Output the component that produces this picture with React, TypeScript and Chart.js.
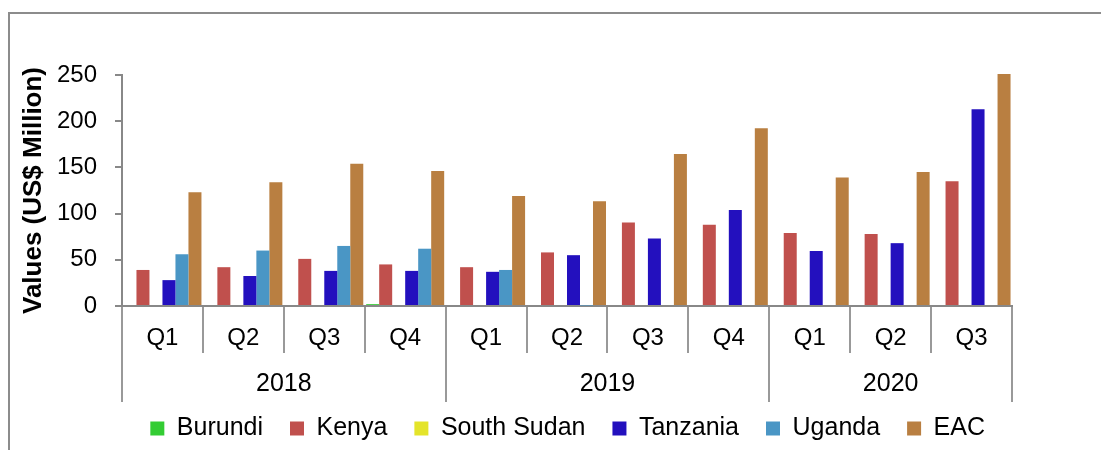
import React, { useEffect, useRef } from "react";
import { Chart, registerables } from "chart.js";

Chart.register(...registerables);

// ---- data ----
const quarters = ["Q1", "Q2", "Q3", "Q4", "Q1", "Q2", "Q3", "Q4", "Q1", "Q2", "Q3"];
const years = ["2018", "2019", "2020"];
const yearStart = [0, 4, 8];
const yearEnd = [4, 8, 11];

const burundi = [0, 0, 0, 2, 0, 0, 0, 0, 0, 0, 0];
const kenya = [39, 42, 51, 45, 42, 58, 90.5, 88, 79, 78, 135];
const southSudan = [0, 0, 0, 0, 0, 0, 0, 0, 0, 0, 0];
const tanzania = [28, 32.5, 38, 38, 37, 55, 73, 104, 59.5, 68, 213];
const uganda = [56, 60, 65, 62, 39, 0.5, 0, 0, 0, 0, 0];
const eac = [123, 134, 154, 146, 119, 113.5, 164.5, 192.5, 139, 145, 251];

const yTicks = [0, 50, 100, 150, 200, 250];

const FONT = "'Liberation Sans', Arial, sans-serif";
const AXIS_GRAY = "#888888";
const LINE_GRAY = "#999999";

export default function App() {
  const canvasRef = useRef<HTMLCanvasElement | null>(null);

  useEffect(() => {
    if (!canvasRef.current) return;
    const yearCenters = yearStart.map((s, i) => (s + yearEnd[i]) / 2);
    const boundaries = Array.from(new Set([...yearStart, ...yearEnd]));
    const x2Ticks = [...boundaries, ...yearCenters].sort((a, b) => a - b);

    const chart = new Chart(canvasRef.current, {
      type: "bar",
      data: {
        labels: quarters,
        datasets: [
          { label: "Burundi", data: burundi, backgroundColor: "#33CC33" },
          { label: "Kenya", data: kenya, backgroundColor: "#C0504D" },
          { label: "South Sudan", data: southSudan, backgroundColor: "#E4E42A" },
          { label: "Tanzania", data: tanzania, backgroundColor: "#2310BE" },
          { label: "Uganda", data: uganda, backgroundColor: "#4A96C5" },
          { label: "EAC", data: eac, backgroundColor: "#B97F41", clip: false as any },
        ],
      },
      options: {
        animation: false,
        responsive: true,
        maintainAspectRatio: false,
        datasets: { bar: { categoryPercentage: 0.964, barPercentage: 1 } },
        layout: { padding: { top: 61, left: 4, right: 89, bottom: -1 } },
        font: { family: FONT },
        scales: {
          x: {
            type: "category",
            position: "bottom",
            weight: 0,
            offset: true,
            grid: {
              offset: true,
              drawOnChartArea: false,
              tickLength: 47,
              color: LINE_GRAY,
              lineWidth: 2,
            },
            border: { display: true, color: AXIS_GRAY, width: 2 },
            ticks: {
              font: { family: FONT, size: 24 },
              color: "#000",
              padding: -29,
              autoSkip: false,
              maxRotation: 0,
            },
            afterFit: (scale: any) => {
              scale.height = 47;
            },
          },
          x2: {
            type: "linear",
            position: "bottom",
            weight: 1,
            min: 0,
            max: quarters.length,
            bounds: "data",
            offset: false,
            grid: {
              offset: false,
              drawOnChartArea: false,
              tickLength: 49,
              lineWidth: 2,
              color: (ctx: any) =>
                ctx.tick && boundaries.includes(ctx.tick.value) ? LINE_GRAY : "rgba(0,0,0,0)",
            },
            border: { display: false },
            afterBuildTicks: (scale: any) => {
              scale.ticks = x2Ticks.map((v) => ({ value: v }));
            },
            ticks: {
              font: { family: FONT, size: 25 },
              color: "#000",
              mirror: true,
              padding: -46.5,
              autoSkip: false,
              maxRotation: 0,
              callback: (value: any) => {
                const i = yearCenters.indexOf(Number(value));
                return i >= 0 ? years[i] : "";
              },
            },
            afterFit: (scale: any) => {
              scale.height = 36;
            },
          },
          y: {
            type: "linear",
            position: "left",
            min: yTicks[0],
            max: yTicks[yTicks.length - 1],
            afterBuildTicks: (scale: any) => {
              scale.ticks = yTicks.map((v) => ({ value: v }));
            },
            grid: {
              drawOnChartArea: false,
              tickLength: 7,
              color: AXIS_GRAY,
              lineWidth: 2,
            },
            border: { display: true, color: AXIS_GRAY, width: 2 },
            ticks: {
              font: { family: FONT, size: 24 },
              color: "#000",
              padding: 18,
            },
            title: {
              display: true,
              text: "Values (US$ Million)",
              font: { family: FONT, size: 26, weight: "bold" },
              color: "#000",
              padding: { top: 4, bottom: 0 },
            },
            afterFit: (scale: any) => {
              scale.width = 108;
            },
          },
        },
        plugins: {
          legend: {
            display: true,
            position: "bottom",
            align: "end",
            fullSize: true,
            labels: {
              font: { family: FONT, size: 25 },
              color: "#000",
              boxWidth: 14,
              boxHeight: 14,
              padding: 27,
            },
          },
          tooltip: { enabled: false },
        },
      } as any,
    });
    return () => chart.destroy();
  }, []);

  return (
    <div
      style={{
        position: "absolute",
        left: 8,
        top: 12,
        width: 1093,
        height: 438,
        borderTop: "2px solid #8c8c8c",
        borderLeft: "2px solid #8c8c8c",
        boxSizing: "border-box",
        background: "#fff",
      }}
    >
      <div style={{ position: "relative", width: "100%", height: "100%" }}>
        <canvas ref={canvasRef} />
      </div>
    </div>
  );
}
